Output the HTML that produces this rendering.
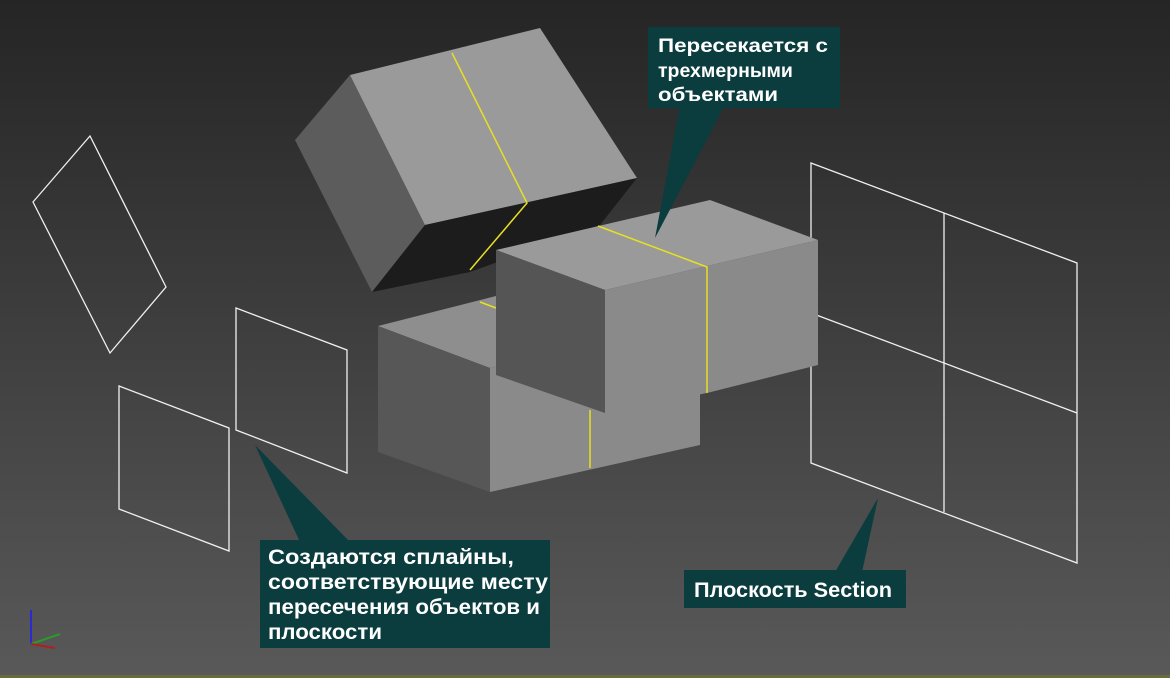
<!DOCTYPE html>
<html><head><meta charset="utf-8"><style>
html,body{margin:0;padding:0;width:1170px;height:678px;overflow:hidden}
svg{display:block}
text{font-family:"Liberation Sans",sans-serif;font-weight:bold;fill:#fff}
</style></head><body>
<svg width="1170" height="678" viewBox="0 0 1170 678">
<defs><linearGradient id="bg" x1="0" y1="0" x2="0" y2="1">
<stop offset="0" stop-color="#252525"/><stop offset="1" stop-color="#595959"/></linearGradient></defs>
<rect width="1170" height="678" fill="url(#bg)"/>
<rect x="0" y="675" width="1170" height="3" fill="#6b6a3a"/>
<g fill="none" stroke="#f0f0f0" stroke-width="1.3">
<polygon points="33,202 90,136 166,287 110,353"/>
<polygon points="236,308 347,350 347,473 236,430"/>
<polygon points="119,386 229,428 229,551 119,509"/>
<polygon points="811,163 1077,263 1077,563 811,463"/>
<line x1="944" y1="213" x2="944" y2="512"/>
<line x1="811" y1="313" x2="1077" y2="413"/>
</g>
<polygon points="350,75 295,140 372,292 425,225" fill="#5c5c5c"/>
<polygon points="350,75 540,28 637,178 425,225" fill="#9a9a9a"/>
<polygon points="372,292 425,225 637,178 600,225 470,272" fill="#1c1c1c"/>
<polyline points="452,53 527,203 470,270" fill="none" stroke="#e8e020" stroke-width="1.5"/>
<polygon points="378,326 496,296 700,318 490,368" fill="#8e8e8e"/>
<polygon points="378,326 490,368 490,492 378,452" fill="#575757"/>
<polygon points="490,368 700,318 700,445 490,492" fill="#8a8a8a"/>
<line x1="590" y1="410" x2="590" y2="468" stroke="#e8e020" stroke-width="1.5"/>
<line x1="480" y1="302" x2="496" y2="308" stroke="#e8e020" stroke-width="1.5"/>
<polygon points="496,250 710,200 818,240 605,290" fill="#9a9a9a"/>
<polygon points="496,250 605,290 605,413 496,375" fill="#555555"/>
<polygon points="605,290 818,240 818,365 707,393 605,413" fill="#8a8a8a"/>
<polyline points="598,226 707,267 707,393" fill="none" stroke="#e8e020" stroke-width="1.5"/>
<line x1="31" y1="644" x2="31" y2="610" stroke="#2a2ad0" stroke-width="2"/>
<line x1="31" y1="644" x2="60" y2="634" stroke="#2a9a2a" stroke-width="2"/>
<line x1="31" y1="644" x2="55" y2="648" stroke="#b02020" stroke-width="2"/>
<g fill="#0b3c3e">
<polygon points="680,105 725,105 655,238"/>
<rect x="648" y="27" width="192" height="81"/>
<polygon points="300,542 350,542 255,445"/>
<rect x="260" y="540" width="290" height="108"/>
<polygon points="835,572 862,572 878,498"/>
<rect x="684" y="570" width="222" height="38"/>
</g>
<text x="658" y="52" font-size="19.5" textLength="170" lengthAdjust="spacingAndGlyphs">Пересекается с</text>
<text x="658" y="77" font-size="19.5">трехмерными</text>
<text x="658" y="101" font-size="19.5" textLength="120" lengthAdjust="spacingAndGlyphs">объектами</text>
<text x="268" y="564" font-size="21" textLength="246" lengthAdjust="spacingAndGlyphs">Создаются сплайны,</text>
<text x="268" y="589" font-size="21" textLength="280" lengthAdjust="spacingAndGlyphs">соответствующие месту</text>
<text x="268" y="614" font-size="21" textLength="272" lengthAdjust="spacingAndGlyphs">пересечения объектов и</text>
<text x="268" y="639" font-size="21" textLength="114" lengthAdjust="spacingAndGlyphs">плоскости</text>
<text x="694" y="597" font-size="21" textLength="198" lengthAdjust="spacingAndGlyphs">Плоскость Section</text>
</svg>
</body></html>
